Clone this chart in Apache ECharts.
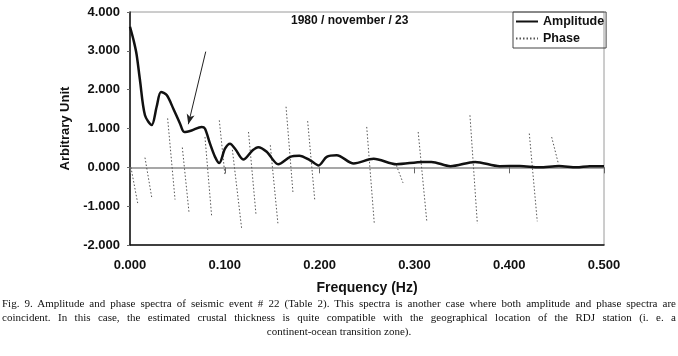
<!DOCTYPE html>
<html>
<head>
<meta charset="utf-8">
<script src="https://cdn.jsdelivr.net/npm/echarts@6/dist/echarts.min.js"></script>
<style>
  html, body { margin: 0; padding: 0; background: #fff; }
  #wrap { position: relative; width: 678px; height: 356px; }
  #chart { width: 678px; height: 356px; }
  #caption {
    position: absolute; left: 2px; top: 296px; width: 674px;
    font-family: "Liberation Serif", "DejaVu Serif", serif; font-size: 11px;
    line-height: 14px; color: #111;
  }
  #caption div { text-align: justify; text-align-last: justify; white-space: nowrap; }
  #caption div.last { text-align: center; text-align-last: center; }
</style>
</head>
<body>
<div id="wrap">
  <div id="chart"></div>
  <div id="caption">
    <div>Fig. 9. Amplitude and phase spectra of seismic event # 22 (Table 2). This spectra is another case where both amplitude and phase spectra are</div>
    <div>coincident. In this case, the estimated crustal thickness is quite compatible with the geographical location of the RDJ station (i. e. a</div>
    <div class="last">continent-ocean transition zone).</div>
  </div>
</div>
<script>
// amplitude spectrum, [frequency (Hz), value]
const amplitude = [
  [0, 3.62], [0.004, 3.25], [0.007, 2.9], [0.0105, 2.25], [0.0158, 1.34], [0.0229, 1.09],
  [0.0281, 1.56], [0.0327, 1.94], [0.0387, 1.86], [0.0457, 1.51], [0.0527, 1.13],
  [0.0573, 0.91], [0.065, 0.95], [0.0756, 1.04], [0.079, 1.0], [0.0844, 0.61],
  [0.0897, 0.27], [0.0942, 0.11], [0.1002, 0.48], [0.1055, 0.61], [0.1108, 0.48],
  [0.1195, 0.2], [0.1294, 0.44], [0.1353, 0.52], [0.1442, 0.4], [0.1564, 0.08],
  [0.169, 0.27], [0.1786, 0.3], [0.19, 0.18], [0.199, 0.05], [0.2075, 0.27],
  [0.218, 0.31], [0.236, 0.1], [0.257, 0.22], [0.281, 0.08], [0.309, 0.14],
  [0.318, 0.14], [0.338, 0.03], [0.364, 0.14], [0.39, 0.03], [0.411, 0.035],
  [0.432, 0.0], [0.4525, 0.035], [0.471, 0.0], [0.485, 0.03], [0.5, 0.03]
]

// phase spectrum, one wrapped segment per entry: start point and end point
const phaseStart = [
  [0.001, 0.0], [0.0158, 0.25], [0.0397, 1.26], [0.0552, 0.51], [0.0791, 0.78],
  [0.0942, 1.21], [0.108, 0.45], [0.125, 0.91], [0.148, 0.57], [0.1646, 1.56],
  [0.1874, 1.19], [0.2497, 1.04], [0.281, 0.05], [0.304, 0.91], [0.3586, 1.34],
  [0.4212, 0.87], [0.4448, 0.78]
]
const phaseEnd = [
  [0.0081, -0.92], [0.0229, -0.77], [0.0475, -0.83], [0.0622, -1.15], [0.0862, -1.28],
  [0.1002, -0.21], [0.1178, -1.58], [0.133, -1.24], [0.156, -1.44], [0.172, -0.68],
  [0.195, -0.87], [0.2577, -1.45], [0.288, -0.4], [0.313, -1.37], [0.3664, -1.45],
  [0.4296, -1.39], [0.4518, 0.1]
]

// arrow annotation pointing at the curve
const arrowFrom = [0.0799, 2.98]
const arrowTo = [0.0615, 1.11]

const xTicks = [0, 0.5, 0.1]   // min, max, step
const yTicks = [-2, 4, 1]

const phaseData = []
phaseStart.forEach((p, i) => {
  phaseData.push(p, phaseEnd[i], [phaseEnd[i][0], null])
})

const boldFont = { fontFamily: "Liberation Sans, Arial, sans-serif", fontWeight: "bold", color: "#111" }

const chart = echarts.init(document.getElementById("chart"))
chart.setOption({
  animation: false,
  backgroundColor: "#fff",
  title: {
    text: "1980 / november / 23",
    left: 291,
    top: 15,
    padding: 0,
    textStyle: { ...boldFont, fontSize: 12 }
  },
  legend: {
    left: 513,
    top: 12,
    orient: "vertical",
    borderColor: "#444",
    borderWidth: 1,
    padding: [3, 2, 3, 2],
    itemGap: 4,
    itemWidth: 22,
    itemHeight: 12,
    itemStyle: { opacity: 0, borderWidth: 0 },
    textStyle: { ...boldFont, fontSize: 12.5 },
    data: ["Amplitude", "Phase"]
  },
  grid: {
    left: 130,
    right: 74,
    top: 12,
    bottom: 111,
    show: true,
    borderColor: "#9a9a9a",
    borderWidth: 1
  },
  xAxis: [
    {
      type: "value",
      position: "bottom",
      min: xTicks[0],
      max: xTicks[1],
      interval: xTicks[2],
      name: "Frequency (Hz)",
      nameLocation: "middle",
      nameGap: 36,
      nameTextStyle: { ...boldFont, fontSize: 14 },
      axisLine: { onZero: false, lineStyle: { color: "#111", width: 1.5 } },
      axisTick: { show: false },
      splitLine: { show: false },
      axisLabel: {
        ...boldFont,
        fontSize: 13,
        margin: 14,
        formatter: v => v.toFixed(3)
      }
    },
    {
      type: "value",
      position: "bottom",
      min: xTicks[0],
      max: xTicks[1],
      interval: xTicks[2],
      axisLine: { onZero: true, onZeroAxisIndex: 0, lineStyle: { color: "#8a8a8a", width: 1.5 } },
      axisTick: { show: true, length: 6, lineStyle: { color: "#666" } },
      axisLabel: { show: false },
      splitLine: { show: false }
    }
  ],
  yAxis: {
    type: "value",
    min: yTicks[0],
    max: yTicks[1],
    interval: yTicks[2],
    name: "Arbitrary Unit",
    nameLocation: "middle",
    nameGap: 55,
    nameTextStyle: { ...boldFont, fontSize: 13 },
    axisLine: { show: true, onZero: false, lineStyle: { color: "#111", width: 1.5 } },
    axisTick: { show: true, length: 3, lineStyle: { color: "#666" } },
    splitLine: { show: false },
    axisLabel: {
      ...boldFont,
      fontSize: 13,
      margin: 10,
      formatter: v => v.toFixed(3)
    }
  },
  series: [
    {
      name: "Phase",
      type: "line",
      xAxisIndex: 0,
      data: phaseData,
      showSymbol: false,
      symbol: "none",
      connectNulls: false,
      color: "#555",
      lineStyle: { color: "#555", width: 1, type: [1.5, 2] },
      z: 2
    },
    {
      name: "Amplitude",
      type: "line",
      xAxisIndex: 0,
      data: amplitude,
      smooth: 0.3,
      showSymbol: false,
      symbol: "none",
      color: "#111",
      lineStyle: { color: "#111", width: 2.5 },
      z: 3,
      markLine: {
        silent: true,
        symbol: ["none", "arrow"],
        symbolSize: [6, 10],
        label: { show: false },
        lineStyle: { color: "#222", width: 1, type: "solid" },
        data: [[{ coord: arrowFrom }, { coord: arrowTo }]]
      }
    }
  ]
})
</script>
</body>
</html>
